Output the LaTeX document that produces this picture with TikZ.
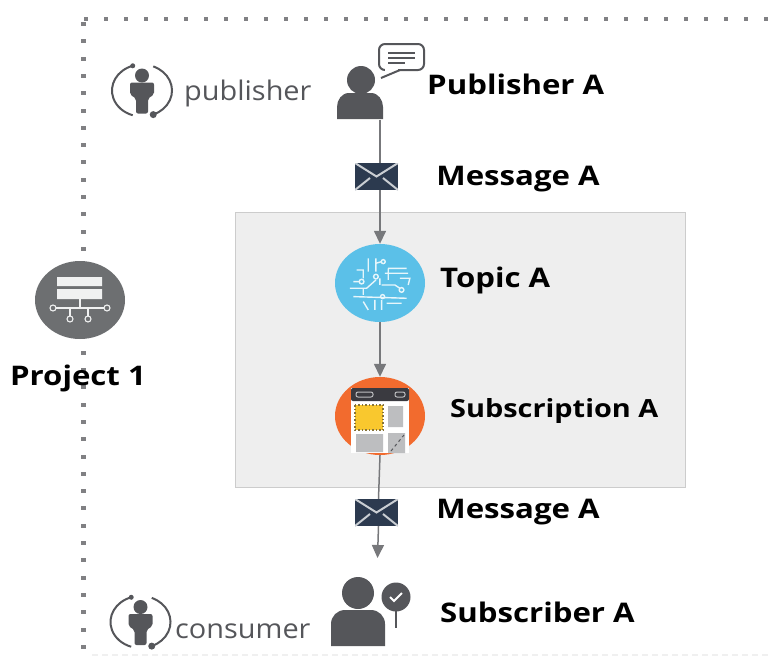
\documentclass[tikz,border=0pt]{standalone}
\usepackage{fontspec}
\setmainfont{Open Sans}
\newfontfamily\titlefont[FakeStretch=1.155]{Open Sans}
\newfontfamily\rolefont[FakeStretch=1.07]{Open Sans}
\usepackage{tikz}
\usetikzlibrary{positioning,arrows.meta,shapes.geometric}
\definecolor{iconc}{HTML}{55565A}
\definecolor{envc}{HTML}{2C3A4F}
\definecolor{linec}{HTML}{77787B}
\definecolor{boxc}{HTML}{EEEEEE}
\definecolor{projc}{HTML}{6D6F71}
\definecolor{topicc}{HTML}{5BC0E8}
\definecolor{subc}{HTML}{F26B2E}
\definecolor{subd}{HTML}{3A3A40}
\definecolor{suby}{HTML}{F9C82E}
\definecolor{subg}{HTML}{BDBEC0}

\begin{document}
\begin{tikzpicture}[x=1pt,y=-1pt,
    title/.style={font=\titlefont\fontsize{27}{27}\selectfont\bfseries, text=black, inner sep=0pt, text height=20pt, text depth=0pt, anchor=west},
    role/.style={font=\rolefont\fontsize{27}{27}\selectfont, text=iconc, inner sep=0pt, text height=20pt, text depth=0pt, anchor=west},
    msg/.style={fill=envc, minimum width=43pt, minimum height=27pt, inner sep=0pt,
        path picture={\draw[white!75!envc, line width=2pt]
            (path picture bounding box.north west) -- (path picture bounding box.center)
            -- (path picture bounding box.north east)
            (path picture bounding box.south west) -- +(15pt,12pt) ++(43pt,0pt) -- +(-15pt,12pt);}},
    icon/.style={ellipse, minimum width=90pt, minimum height=78pt, inner sep=0pt},
    who/.style={minimum width=46pt, minimum height=40pt, inner sep=0pt},
    flow/.style={>={Stealth[length=13pt,width=12pt,inset=0pt]}, draw=linec, line width=1.5pt},
    ring/.pic={
        \draw[iconc, line width=2pt] (108:30pt and 26pt) arc[start angle=108, end angle=252, x radius=30pt, y radius=26pt];
        \draw[iconc, line width=2pt] (68:30pt and 26pt) arc[start angle=68, end angle=-68, x radius=30pt, y radius=26pt];
        \fill[iconc] (108:30pt and 26pt) circle (2.5) (-68:30pt and 26pt) circle (3.5);
        \fill[iconc] (0,-15) circle (7);
        \fill[iconc, rounded corners=2pt] (-12,-8) -- (12,-8) -- (12,4) -- (6,8) -- (6,23) -- (-6,23) -- (-6,8) -- (-12,4) -- cycle;
    }]
  \useasboundingbox (0,0) rectangle (772,657);

  % frame
  \foreach \n in {0,...,34} \fill[iconc!75] (83.5+20*\n,17) rectangle +(4,4);
  \foreach \n in {0,...,36} \fill[iconc!75] (81,22+17.3*\n) rectangle +(4.5,4);
  \draw[black!6, line width=1.5pt, dash pattern=on 6pt off 4pt] (92,655) -- (772,655);

  % broker box
  \node[draw=black!20, fill=boxc, minimum width=450pt, minimum height=275pt, inner sep=0pt] (broker) at (460,349.5) {};

  % project
  \node[icon, fill=projc] (project) at (80,300) {};
  \fill[white!90!projc] (57,277) rectangle (102,286) (57,289) rectangle (102,299);
  \draw[white!90!projc, line width=1.1pt] (80,299) -- (80,308) (56,308) -- (104,308) (70,308) -- (70,316) (88,308) -- (88,316);
  \foreach \a/\b in {53/308,107/308,70/319,88/319} \draw[white!90!projc, line width=1.1pt] (\a,\b) circle (3);
  \node[title, anchor=center] (projectLabel) at (78,375) {Project 1};

  % publisher side
  \node[who] (pubA) at (360,99.5) {};
  \fill[iconc] (361,80) circle (14);
  \fill[iconc] (337,119) -- (337,107) to[out=90,in=180] (349,93) -- (371,93) to[out=0,in=90] (383,107) -- (383,119) -- cycle;
  \draw[iconc, line width=2pt, rounded corners=6pt] (379,44) rectangle (424,70);
  \fill[white] (385,68) rectangle (398,72);
  \draw[iconc, line width=2pt] (381,78) -- (400,70);
  \draw[iconc, line width=2pt] (388,53) -- (415,53) (388,58) -- (415,58);
  \draw[iconc, line width=2pt] (388,63) -- (405,63);
  \node[title] (pubLabel) at (427,84) {Publisher A};
  \node[msg] (msgA) at (376.5,176.5) {};
  \node[title, right=38pt of msgA, yshift=1pt] (msgALabel) {Message A};

  % topic
  \node[icon, fill=topicc] (topicA) at (380,283) {};
  \begin{scope}[shift={(300,230)},x=0.333pt,y=-0.333pt,white!85!topicc,line width=1.4pt]
    \draw (170,120) -- (190,120) -- (190,145) (205,85) -- (205,125) (228,85) -- (228,125) (228,100) -- (245,95) (265,115) -- (320,115) (265,115) -- (265,150) (255,130) -- (325,130) (300,145) -- (330,145) -- (325,165) (150,175) -- (200,175) -- (228,150) (160,155) -- (178,155) (245,165) -- (285,165) -- (300,175) (160,200) -- (320,205) (240,145) -- (240,165) (190,175) -- (190,195) (190,215) -- (205,240) (225,210) -- (225,240) (245,210) -- (245,240) (260,220) -- (305,220);
    \draw (250,95) circle (6) (228,140) circle (7) (185,155) circle (7) (305,180) circle (7) (248,200) circle (6);
  \end{scope}
  \node[title] (topicLabel) at (440,277) {Topic A};

  % subscription
  \node[icon, fill=subc] (subA) at (380,416) {};
  \fill[white] (351,388) rectangle (409,453);
  \fill[subd, rounded corners=2pt] (351,388) rectangle (409,401);
  \draw[subg, line width=1pt, rounded corners=2pt] (356,392) rectangle (373,397) (395,392) rectangle (405,397);
  \draw[suby!40!subd, fill=suby, line width=1.5pt, dotted] (355,405) rectangle (383,430);
  \fill[subg] (388,406) rectangle (403,427) (356,434) rectangle (383,452) (388,433) rectangle (405,453);
  \draw[iconc, line width=1pt, dashed] (391,451) -- (404,435);
  \node[title, font=\titlefont\fontsize{25}{25}\selectfont\bfseries] (subLabel) at (450,407) {Subscription A};

  % subscriber side
  \node[msg] (msgB) at (376.5,512.5) {};
  \node[title, right=38pt of msgB, yshift=4.5pt] (msgBLabel) {Message A};
  \coordinate (subrTip) at (377.5,558);
  \node[who, minimum width=54pt, minimum height=68pt] (subrA) at (358,612) {};
  \fill[iconc] (358,593) circle (16);
  \fill[iconc] (331,646) -- (331,624) to[out=90,in=180] (345,610) -- (371,610) to[out=0,in=90] (385,624) -- (385,646) -- cycle;
  \draw[iconc, line width=2pt] (396,600) -- (396,628);
  \fill[iconc] (396,597) circle (14.5);
  \draw[white, line width=2pt] (390,597) -- (394,601) -- (402,593);
  \node[title] (subrLabel) at (440,612) {Subscriber A};

  % roles
  \pic at (142,90.5) {ring};
  \node[role] (pubRole) at (184,90) {publisher};
  \pic at (140.5,622) {ring};
  \node[role] (subrRole) at (175,628) {consumer};

  % connectors
  \draw[flow] (pubA.south -| topicA) -- (msgA.north -| topicA);
  \draw[flow,->] (msgA.south -| topicA) -- (topicA);
  \draw[flow,->] (topicA) -- (subA);
  \draw[flow] (subA.south) -- ([xshift=2pt]msgB.north);
  \draw[flow,->] ([xshift=2pt]msgB.south) -- (subrTip);
\end{tikzpicture}
\end{document}
